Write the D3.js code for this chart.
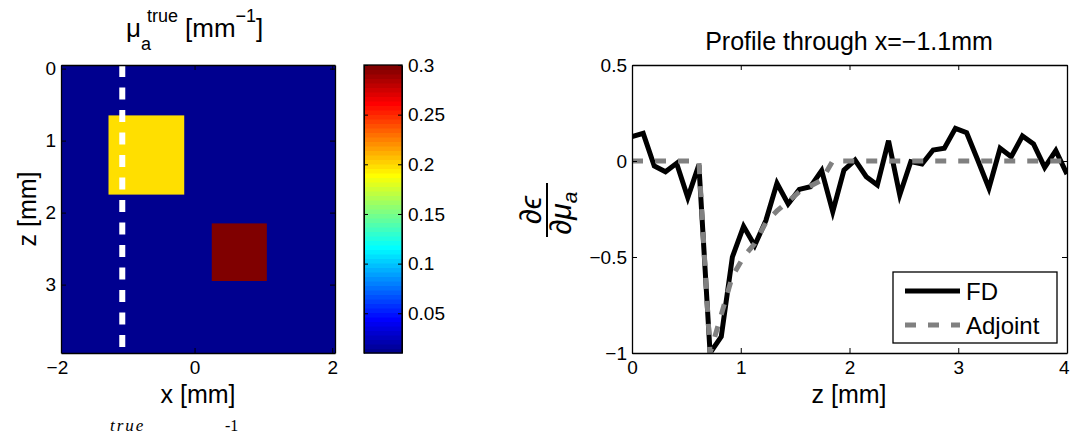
<!DOCTYPE html>
<html>
<head>
<meta charset="utf-8">
<script src="https://cdn.jsdelivr.net/npm/d3@7"></script>
<style>
  body { margin: 0; background: #fff; }
  svg { display: block; }
  text { font-family: "Liberation Sans", Arial, Helvetica, sans-serif; fill: #000; }
  .tick text { font-size: 19px; }
</style>
</head>
<body>
<div id="content"></div>
<script>
// ---- data ----
// left panel: absorption map (mm^-1)
let backgroundMua = 0.01
let incX0 = [-1.25, 0.25]
let incX1 = [-0.15, 1.05]
let incZ0 = [0.65, 2.15]
let incZ1 = [1.75, 2.95]
let incMua = [0.2, 0.3]
let profileX = -1.05
let mapXTicks = [-2, 0, 2]
let mapZTicks = [0, 1, 2, 3]
let cbarTicks = [0.05, 0.1, 0.15, 0.2, 0.25, 0.3]

// right panel: profile
let zPos = [0, 0.103, 0.205, 0.308, 0.41, 0.513, 0.615, 0.718, 0.821, 0.923,
  1.026, 1.128, 1.231, 1.333, 1.436, 1.538, 1.641, 1.744, 1.846, 1.949,
  2.051, 2.154, 2.256, 2.359, 2.462, 2.564, 2.667, 2.769, 2.872, 2.974,
  3.077, 3.179, 3.282, 3.385, 3.487, 3.59, 3.692, 3.795, 3.897, 4.0]
let fdValues = [0.127, 0.144, -0.026, -0.056, -0.012, -0.19, -0.02, -1.0, -0.915, -0.5,
  -0.34, -0.44, -0.31, -0.116, -0.224, -0.148, -0.134, -0.05, -0.264, -0.047,
  0.005, -0.082, -0.125, 0.106, -0.177, -0.003, -0.016, 0.057, 0.066, 0.17,
  0.147, 0.005, -0.142, 0.066, 0.022, 0.13, 0.089, -0.033, 0.054, -0.068]
let adjValues = [0, 0, 0, 0, 0, 0, 0, -1.0, -0.8, -0.6,
  -0.5, -0.43, -0.32, -0.26, -0.21, -0.16, -0.13, -0.1, 0, 0,
  0, 0, 0, 0, 0, 0, 0, 0, 0, 0,
  0, 0, 0, 0, 0, 0, 0, 0, 0, 0]
let profZTicks = [0, 1, 2, 3, 4]
let profYTicks = [-1, -0.5, 0, 0.5]

// matlab style jet(64)
function jetMap(m) {
  let n = Math.ceil(m / 4)
  let u = []
  for (let i = 1; i <= n; i++) u.push(i / n)
  for (let i = 1; i < n; i++) u.push(1)
  for (let i = n; i >= 1; i--) u.push(i / n)
  let J = []
  for (let i = 0; i < m; i++) J.push([0, 0, 0])
  let g0 = Math.ceil(n / 2) - (m % 4 == 1 ? 1 : 0)
  u.forEach(function(val, k) {
    let g = g0 + k + 1, r = g + n, b = g - n
    if (r >= 1 && r <= m) J[r - 1][0] = val
    if (g >= 1 && g <= m) J[g - 1][1] = val
    if (b >= 1 && b <= m) J[b - 1][2] = val
  })
  return J.map(c => d3.rgb(c[0] * 255, c[1] * 255, c[2] * 255).formatHex())
}
let jet = jetMap(64)
let cmin = 0.01, cmax = 0.3
function muaColor(v) {
  let idx = Math.floor((v - cmin) / (cmax - cmin) * 64)
  idx = Math.max(0, Math.min(63, idx))
  return jet[idx]
}

let svg = d3.select("#content").append("svg")
  .attr("width", 1071).attr("height", 437)

let ffmt = d3.format("~g")

function styleAxis(g) {
  g.selectAll("path, line").attr("stroke", "#000").attr("stroke-width", 1)
  g.selectAll("text").attr("fill", "#000")
}

// ---------- left panel ----------
let mx = d3.scaleLinear().domain([-1.94, 2.04]).range([61, 335])
let mz = d3.scaleLinear().domain([-0.05, 3.95]).range([65, 353])

let map = svg.append("g")
map.append("clipPath").attr("id", "mapclip").append("rect")
  .attr("x", 61).attr("y", 65).attr("width", 274).attr("height", 288)
let mapBody = map.append("g").attr("clip-path", "url(#mapclip)")
mapBody.append("rect")
  .attr("x", mx(-1.94)).attr("y", mz(-0.05))
  .attr("width", mx(2.04) - mx(-1.94)).attr("height", mz(3.95) - mz(-0.05))
  .attr("fill", muaColor(backgroundMua))
mapBody.selectAll("rect.inc").data(incMua).enter().append("rect")
  .attr("class", "inc")
  .attr("x", (d, i) => mx(incX0[i]))
  .attr("y", (d, i) => mz(incZ0[i]))
  .attr("width", (d, i) => mx(incX1[i]) - mx(incX0[i]))
  .attr("height", (d, i) => mz(incZ1[i]) - mz(incZ0[i]))
  .attr("fill", d => muaColor(d))
mapBody.append("line")
  .attr("x1", mx(profileX)).attr("x2", mx(profileX))
  .attr("y1", mz(-0.05)).attr("y2", mz(3.87))
  .attr("stroke", "#fff").attr("stroke-width", 6)
  .attr("stroke-dasharray", "12,10.5")

map.append("g").attr("transform", "translate(0,353)")
  .call(d3.axisBottom(mx).tickValues(mapXTicks).tickSize(-5).tickSizeOuter(0).tickPadding(8).tickFormat(ffmt))
  .call(styleAxis)
map.append("g").attr("transform", "translate(0,65)")
  .call(d3.axisTop(mx).tickValues(mapXTicks.filter(d => d > -1.94)).tickSize(-5).tickSizeOuter(0).tickFormat(""))
  .call(styleAxis)
map.append("g").attr("transform", "translate(61,0)")
  .call(d3.axisLeft(mz).tickValues(mapZTicks).tickSize(-5).tickSizeOuter(0).tickPadding(5).tickFormat(ffmt))
  .call(styleAxis)
map.append("g").attr("transform", "translate(335,0)")
  .call(d3.axisRight(mz).tickValues(mapZTicks).tickSize(-5).tickSizeOuter(0).tickFormat(""))
  .call(styleAxis)
map.selectAll(".domain").attr("stroke-width", 1.3)
// -2 sits just outside the image edge: keep its label, drop its tick mark
map.selectAll(".tick").filter(d => d < -1.94).select("line").remove()

// titles and labels
let t1 = svg.append("text").attr("x", 126).attr("y", 37).style("font-size", "26px")
t1.append("tspan").text("\u03bc")
t1.append("tspan").attr("x", 147).attr("dy", -15).style("font-size", "18px").text("true")
t1.append("tspan").attr("x", 141).attr("dy", 28).style("font-size", "18px").text("a")
t1.append("tspan").attr("x", 185).attr("dy", -13).text("[mm")
t1.append("tspan").attr("dy", -15).style("font-size", "18px").text("\u22121")
t1.append("tspan").attr("dy", 15).text("]")

svg.append("text").attr("x", 198).attr("y", 403).attr("text-anchor", "middle")
  .style("font-size", "25px").text("x [mm]")
svg.append("text").attr("transform", "translate(36,209) rotate(-90)").attr("text-anchor", "middle")
  .style("font-size", "25px").text("z [mm]")

// stray latex fragments under the map
svg.append("text").attr("x", 110).attr("y", 431)
  .style("font-family", "'Liberation Serif', 'DejaVu Serif', serif").style("font-style", "italic")
  .style("font-size", "17px").style("letter-spacing", "2px").text("true")
svg.append("text").attr("x", 225).attr("y", 431)
  .style("font-family", "'Liberation Serif', 'DejaVu Serif', serif")
  .style("font-size", "16px").text("-1")

// colorbar
let cy = d3.scaleLinear().domain([cmin, cmax]).range([353, 65])
let cbar = svg.append("g")
let bands = d3.range(64)
cbar.selectAll("rect.band").data(bands).enter().append("rect")
  .attr("class", "band")
  .attr("x", 364).attr("width", 38)
  .attr("y", d => cy(cmin + (d + 1) * (cmax - cmin) / 64))
  .attr("height", d => cy(cmin + d * (cmax - cmin) / 64) - cy(cmin + (d + 1) * (cmax - cmin) / 64) + 0.5)
  .attr("fill", d => jet[d])
cbar.append("g").attr("transform", "translate(402,0)")
  .call(d3.axisRight(cy).tickValues(cbarTicks).tickSize(-4).tickSizeOuter(0).tickPadding(6).tickFormat(ffmt))
  .call(styleAxis)
cbar.append("g").attr("transform", "translate(364,0)")
  .call(d3.axisLeft(cy).tickValues(cbarTicks).tickSize(-4).tickSizeOuter(0).tickFormat(""))
  .call(styleAxis)
cbar.append("rect").attr("x", 364).attr("y", 65).attr("width", 38).attr("height", 288)
  .attr("fill", "none").attr("stroke", "#000").attr("stroke-width", 1.3)

// ---------- right panel ----------
let px = d3.scaleLinear().domain([0, 4]).range([632, 1067])
let py = d3.scaleLinear().domain([-1, 0.5]).range([353, 65])

let prof = svg.append("g")
prof.append("clipPath").attr("id", "profclip").append("rect")
  .attr("x", 632).attr("y", 65).attr("width", 435).attr("height", 288)
let fdLine = d3.line().x((d, i) => px(zPos[i])).y(d => py(d))
let plotArea = prof.append("g").attr("clip-path", "url(#profclip)")
plotArea.append("path").datum(fdValues).attr("d", fdLine)
  .attr("fill", "none").attr("stroke", "#000").attr("stroke-width", 5)
plotArea.append("path").datum(adjValues).attr("d", fdLine)
  .attr("fill", "none").attr("stroke", "#808080").attr("stroke-width", 5)
  .attr("stroke-dasharray", "11,12")

prof.append("g").attr("transform", "translate(0,353)")
  .call(d3.axisBottom(px).tickValues(profZTicks).tickSize(-5).tickSizeOuter(0).tickPadding(8).tickFormat(ffmt))
  .call(styleAxis)
prof.append("g").attr("transform", "translate(0,65)")
  .call(d3.axisTop(px).tickValues(profZTicks).tickSize(-5).tickSizeOuter(0).tickFormat(""))
  .call(styleAxis)
prof.append("g").attr("transform", "translate(632,0)")
  .call(d3.axisLeft(py).tickValues(profYTicks).tickSize(-5).tickSizeOuter(0).tickPadding(5).tickFormat(ffmt))
  .call(styleAxis)
prof.append("g").attr("transform", "translate(1067,0)")
  .call(d3.axisRight(py).tickValues(profYTicks).tickSize(-5).tickSizeOuter(0).tickFormat(""))
  .call(styleAxis)
prof.selectAll(".domain").attr("stroke-width", 1.3)
// last z label sits at the window edge; keep it just inside
prof.selectAll(".tick text").filter(d => d === 4).attr("text-anchor", "end").attr("dx", "2")

svg.append("text").attr("x", 849).attr("y", 50).attr("text-anchor", "middle")
  .style("font-size", "25px").text("Profile through x=\u22121.1mm")
svg.append("text").attr("x", 849).attr("y", 403).attr("text-anchor", "middle")
  .style("font-size", "25px").text("z [mm]")

// y label as a fraction
let frac = svg.append("g").attr("transform", "translate(547,210) rotate(-90)")
  .style("font-family", "'Liberation Serif', 'DejaVu Serif', serif").style("font-style", "italic")
frac.append("line").attr("x1", -27).attr("x2", 27).attr("y1", 0).attr("y2", 0)
  .attr("stroke", "#000").attr("stroke-width", 2)
frac.append("text").attr("x", 0).attr("y", -6).attr("text-anchor", "middle")
  .style("font-size", "30px").text("\u2202\u03f5")
let den = frac.append("text").attr("x", -3).attr("y", 24).attr("text-anchor", "middle")
  .style("font-size", "30px")
den.append("tspan").text("\u2202\u03bc")
den.append("tspan").attr("dy", 6).style("font-size", "21px").text("a")

// legend
let leg = svg.append("g")
leg.append("rect").attr("x", 893).attr("y", 272).attr("width", 164).attr("height", 71)
  .attr("fill", "#fff").attr("stroke", "#000").attr("stroke-width", 1.3)
leg.append("line").attr("x1", 905).attr("x2", 960).attr("y1", 291).attr("y2", 291)
  .attr("stroke", "#000").attr("stroke-width", 5)
leg.append("line").attr("x1", 905).attr("x2", 960).attr("y1", 325).attr("y2", 325)
  .attr("stroke", "#808080").attr("stroke-width", 5).attr("stroke-dasharray", "11,12")
leg.append("text").attr("x", 966).attr("y", 300).style("font-size", "24px").text("FD")
leg.append("text").attr("x", 966).attr("y", 334).style("font-size", "24px").text("Adjoint")
</script>
</body>
</html>
